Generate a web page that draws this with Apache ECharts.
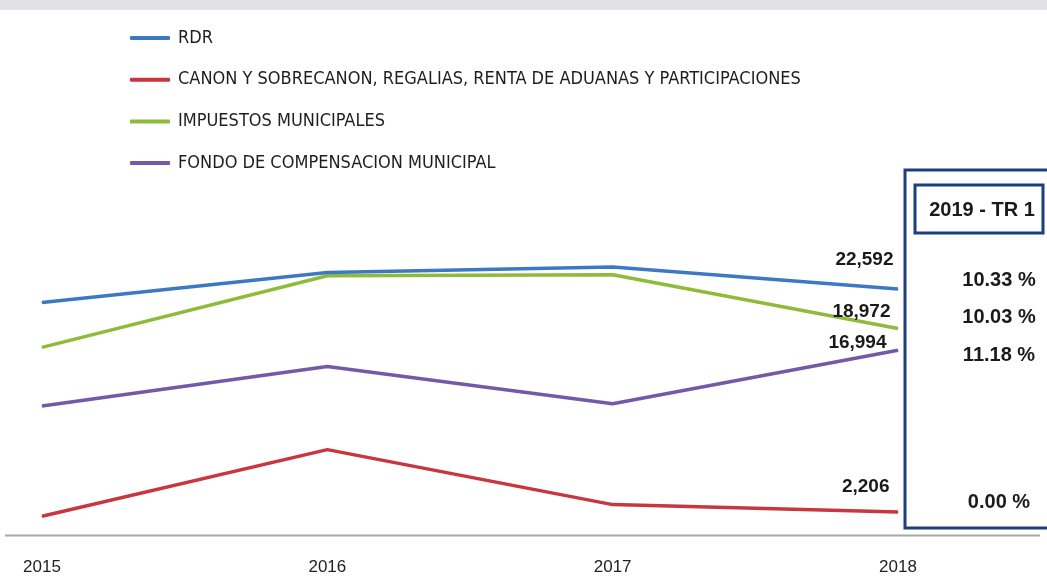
<!DOCTYPE html>
<html>
<head>
<meta charset="utf-8">
<script src="https://cdn.jsdelivr.net/npm/echarts@6/dist/echarts.min.js"></script>
<style>
  html, body { margin: 0; padding: 0; background: #fff; }
  #chart { width: 1047px; height: 576px; }
</style>
</head>
<body>
<div id="chart"></div>
<script>
// datos
const years = ['2015', '2016', '2017', '2018'];
const seriesNames = [
  'RDR',
  'CANON Y SOBRECANON, REGALIAS, RENTA DE ADUANAS Y PARTICIPACIONES',
  'IMPUESTOS MUNICIPALES',
  'FONDO DE COMPENSACION MUNICIPAL'
];
const rdr = [21350, 24100, 24600, 22592];
const canon = [1800, 7900, 2870, 2206];
const impuestos = [17250, 23800, 23900, 18972];
const fondo = [11900, 15500, 12100, 16994];
const boxTitle = '2019 - TR 1';
const variaciones = ['10.33 %', '10.03 %', '11.18 %', '0.00 %'];

const colors = ['#3d78c2', '#c8373f', '#8fbb3a', '#7459a8'];
const labelOffsets = [[0, -29], [-4, -25], [-3, -17], [-7, -7]];
const numFont = "'Liberation Sans', Arial, sans-serif";
const narrowFont = "'Liberation Sans Narrow', 'DejaVu Sans Condensed', sans-serif";

const chart = echarts.init(document.getElementById('chart'));

// solo el ultimo punto lleva etiqueta
function withLastLabel(arr) {
  return arr.map((v, i) => i === arr.length - 1 ? { value: v, label: { show: true } } : v);
}

const allData = [rdr, canon, impuestos, fondo];

const series = allData.map((arr, i) => ({
  name: seriesNames[i],
  type: 'line',
  data: withLastLabel(arr),
  symbol: 'circle',
  symbolSize: 1,
  showSymbol: true,
  lineStyle: { width: 3.5, color: colors[i] },
  itemStyle: { color: colors[i] },
  z: 10 - i,
  label: {
    show: false,
    position: 'left',
    distance: 4,
    offset: labelOffsets[i],
    fontFamily: numFont,
    fontSize: 19,
    fontWeight: 'bold',
    color: '#1a1a1a',
    formatter: p => p.value.toLocaleString('en-US')
  }
}));

const pctY = [280, 317, 355, 502];

const option = {
  backgroundColor: '#fff',
  animation: false,
  color: colors,
  legend: {
    orient: 'vertical',
    left: 125,
    top: 23,
    icon: 'roundRect',
    itemWidth: 40,
    itemHeight: 4,
    itemGap: 21.7,
    data: seriesNames,
    textStyle: {
      fontFamily: narrowFont,
      fontSize: 18,
      lineHeight: 20,
      color: '#1e1e1e',
      padding: [0, 0, 0, 3]
    }
  },
  grid: { left: 42, right: 149, top: 208, bottom: 40 },
  xAxis: {
    type: 'category',
    data: years,
    boundaryGap: false,
    axisLine: { show: false },
    axisTick: { show: false },
    axisLabel: {
      margin: 23,
      fontFamily: numFont,
      fontSize: 17,
      color: '#222'
    }
  },
  yAxis: {
    type: 'value',
    min: 0,
    max: 30000,
    show: false,
    splitLine: { show: false }
  },
  graphic: [
    // franja gris superior
    { type: 'rect', left: 0, top: 0, z: 0,
      shape: { width: 1047, height: 10 }, style: { fill: '#e2e2e6' } },
    // linea del eje
    { type: 'line', z: 1,
      shape: { x1: 5, y1: 535.5, x2: 1040, y2: 535.5 },
      style: { stroke: '#a8a8a8', lineWidth: 2 } },
    // recuadro 2019
    { type: 'rect', z: 1,
      shape: { x: 905, y: 170, width: 170, height: 358 },
      style: { fill: 'none', stroke: '#1d3f7c', lineWidth: 3 } },
    { type: 'rect', z: 1,
      shape: { x: 915, y: 185, width: 128, height: 48 },
      style: { fill: 'none', stroke: '#1d3f7c', lineWidth: 3 } },
    { type: 'text', z: 2, x: 982, y: 210,
      style: { text: boxTitle, align: 'center', verticalAlign: 'middle',
        font: "bold 20px " + numFont, fill: '#1a1a1a' } }
  ].concat(variaciones.map((t, i) => ({
    type: 'text', z: 2, x: 999, y: pctY[i],
    style: { text: t, align: 'center', verticalAlign: 'middle',
      font: "bold 20px " + numFont, fill: '#1a1a1a' }
  }))),
  series: series
};

chart.setOption(option);
</script>
</body>
</html>
